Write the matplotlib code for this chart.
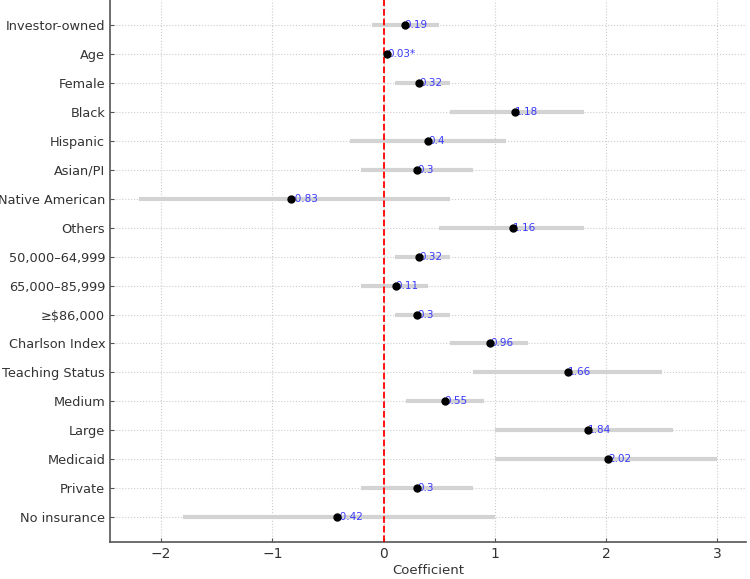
import numpy as np
import matplotlib.pyplot as plt

variables = [
    "Investor-owned", "Age", "Female", "Black", "Hispanic", "Asian/PI",
    "Native American", "Others", "50,000–64,999", "65,000–85,999",
    "≥$86,000", "Charlson Index", "Teaching Status", "Medium", "Large",
    "Medicaid", "Private", "No insurance"
]
coef = [0.19, 0.03, 0.32, 1.18, 0.4, 0.3, -0.83, 1.16, 0.32, 0.11,
        0.3, 0.96, 1.66, 0.55, 1.84, 2.02, 0.3, -0.42]
ci_low = [-0.1, 0.02, 0.1, 0.6, -0.3, -0.2, -2.2, 0.5, 0.1, -0.2,
          0.1, 0.6, 0.8, 0.2, 1.0, 1.0, -0.2, -1.8]
ci_high = [0.5, 0.04, 0.6, 1.8, 1.1, 0.8, 0.6, 1.8, 0.6, 0.4,
           0.6, 1.3, 2.5, 0.9, 2.6, 3.0, 0.8, 1.0]
labels = ["0.19", "0.03*", "0.32", "1.18", "0.4", "0.3", "-0.83", "1.16",
          "0.32", "0.11", "0.3", "0.96", "1.66", "0.55", "1.84", "2.02",
          "0.3", "-0.42"]

fig = plt.figure(figsize=(7.5, 5.79), dpi=100)
ax = fig.add_axes([0.1467, 0.0639, 0.848, 0.936])

y = np.arange(len(variables))

ax.hlines(y, ci_low, ci_high, color="#d3d3d3", linewidth=3, zorder=2)
ax.plot(coef, y, "o", color="black", markersize=5, zorder=4)
for xi, yi, lab in zip(coef, y, labels):
    ax.text(xi, yi, lab, color="#3a3aff", fontsize=7.5, ha="left", va="center", zorder=3)

ax.axvline(0, color="red", linestyle="--", linewidth=1.3, zorder=3)

ax.set_yticks(y)
ax.set_yticklabels(variables, fontsize=9.3)
ax.invert_yaxis()
ax.set_xlabel("Coefficient", color="#333333", fontsize=9.5, labelpad=2)

ax.grid(True, linestyle=":", color="#cccccc", linewidth=0.8, zorder=0)
ax.set_axisbelow(True)
for s in ["top", "right"]:
    ax.spines[s].set_visible(False)
for s in ["left", "bottom"]:
    ax.spines[s].set_color("#555555")
    ax.spines[s].set_linewidth(1.2)
ax.tick_params(direction="in", length=3, color="#555555", labelcolor="#333333")
ax.tick_params(axis="x", labelsize=10)

fig.savefig("out.png", dpi=100)
